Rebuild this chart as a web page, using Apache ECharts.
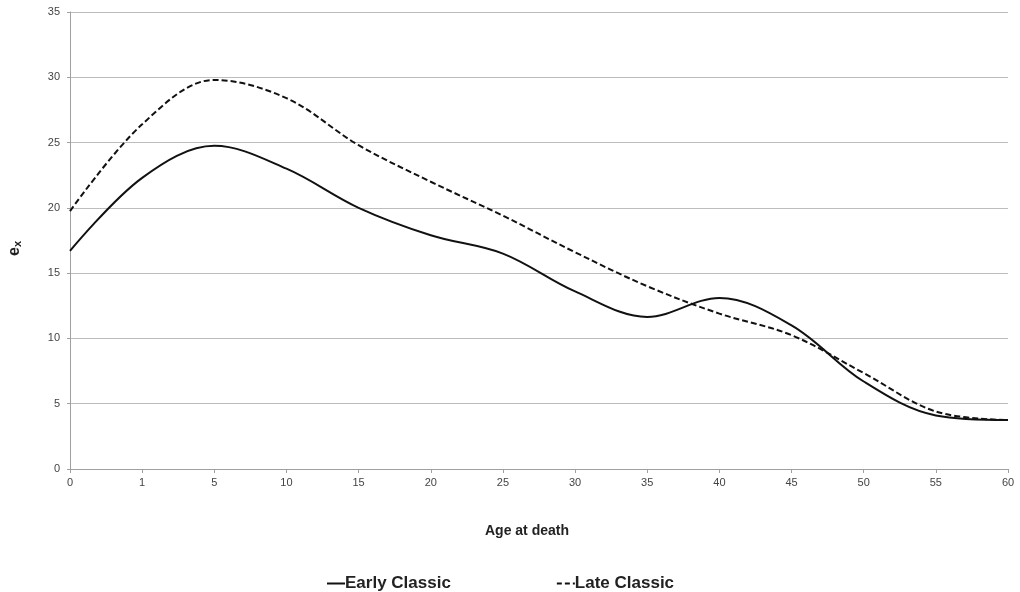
<!DOCTYPE html>
<html>
<head>
<meta charset="utf-8">
<script src="https://cdn.jsdelivr.net/npm/echarts@6/dist/echarts.min.js"></script>
<style>
  html, body { margin: 0; padding: 0; background: #fff; }
  #chart { width: 1020px; height: 592px; }
</style>
</head>
<body>
<div id="chart"></div>
<script>
// Age classes at death (evenly spaced categories)
const ages = ['0', '1', '5', '10', '15', '20', '25', '30', '35', '40', '45', '50', '55', '60'];

// Life expectancy e_x by age class
const earlyClassic = [16.7, 22.3, 24.75, 23.0, 20.0, 17.9, 16.5, 13.6, 11.65, 13.1, 11.0, 6.7, 4.1, 3.75];
const lateClassic  = [19.75, 26.4, 29.8, 28.4, 24.8, 22.0, 19.4, 16.6, 14.0, 11.9, 10.25, 7.35, 4.4, 3.75];

const yTicks = { min: 0, max: 35, interval: 5 };

const font = 'Liberation Sans, Arial, sans-serif';
const chart = echarts.init(document.getElementById('chart'), null, { renderer: 'canvas' });

// legend keys: a solid stroke and a dashed stroke
const solidIcon = 'path://M0,0H18V2H0Z';
const dashedIcon = 'path://M0,0H5V2H0Z M8,0H13V2H8Z M16,0H18V2H16Z';

chart.setOption({
  animation: false,
  backgroundColor: '#ffffff',
  textStyle: { fontFamily: font },
  grid: { left: 70, right: 12, top: 12, bottom: 123, containLabel: false, outerBoundsMode: 'none' },
  legend: {
    left: 327,
    top: 575,
    padding: 0,
    itemGap: 106,
    itemWidth: 18,
    itemHeight: 2,
    textStyle: { fontFamily: font, fontSize: 17, fontWeight: 'bold', color: '#222', padding: [0, 0, 0, -5] },
    data: [
      { name: 'Early Classic', icon: solidIcon, itemStyle: { color: '#111' } },
      { name: 'Late Classic', icon: dashedIcon, itemStyle: { color: '#111' } }
    ]
  },
  xAxis: {
    type: 'category',
    data: ages,
    boundaryGap: false,
    name: 'Age at death',
    nameLocation: 'middle',
    nameGap: 55,
    nameTextStyle: { fontFamily: font, fontSize: 14, fontWeight: 'bold', color: '#222', padding: [0, 24, 0, 0] },
    axisLine: { lineStyle: { color: '#a0a0a0', width: 1 } },
    axisTick: { show: true, alignWithLabel: true, length: 4, lineStyle: { color: '#a0a0a0' } },
    axisLabel: { fontFamily: font, fontSize: 11, color: '#444', margin: 8 },
    splitLine: { show: false }
  },
  yAxis: {
    type: 'value',
    min: yTicks.min,
    max: yTicks.max,
    interval: yTicks.interval,
    name: '{e|e}{x|x}',
    nameLocation: 'middle',
    nameRotate: 90,
    nameGap: 47,
    nameTextStyle: {
      padding: [0, 16, 0, 0],
      rich: {
        e: { fontFamily: font, fontSize: 16, fontWeight: 'bold', color: '#222' },
        x: { fontFamily: font, fontSize: 11, fontWeight: 'bold', color: '#222', verticalAlign: 'bottom', padding: [6, 0, 0, 0] }
      }
    },
    axisLine: { show: true, lineStyle: { color: '#a0a0a0', width: 1 } },
    axisTick: { show: true, length: 3, lineStyle: { color: '#a0a0a0' } },
    axisLabel: { fontFamily: font, fontSize: 11, color: '#444', margin: 10 },
    splitLine: { show: true, lineStyle: { color: '#bdbdbd', width: 1 } }
  },
  series: [
    {
      name: 'Early Classic',
      type: 'line',
      data: earlyClassic,
      smooth: 0.35,
      symbol: 'none',
      color: '#111',
      lineStyle: { color: '#111', width: 2, type: 'solid' }
    },
    {
      name: 'Late Classic',
      type: 'line',
      data: lateClassic,
      smooth: 0.35,
      symbol: 'none',
      color: '#111',
      lineStyle: { color: '#111', width: 2, type: [6, 3] }
    }
  ]
});
</script>
</body>
</html>
